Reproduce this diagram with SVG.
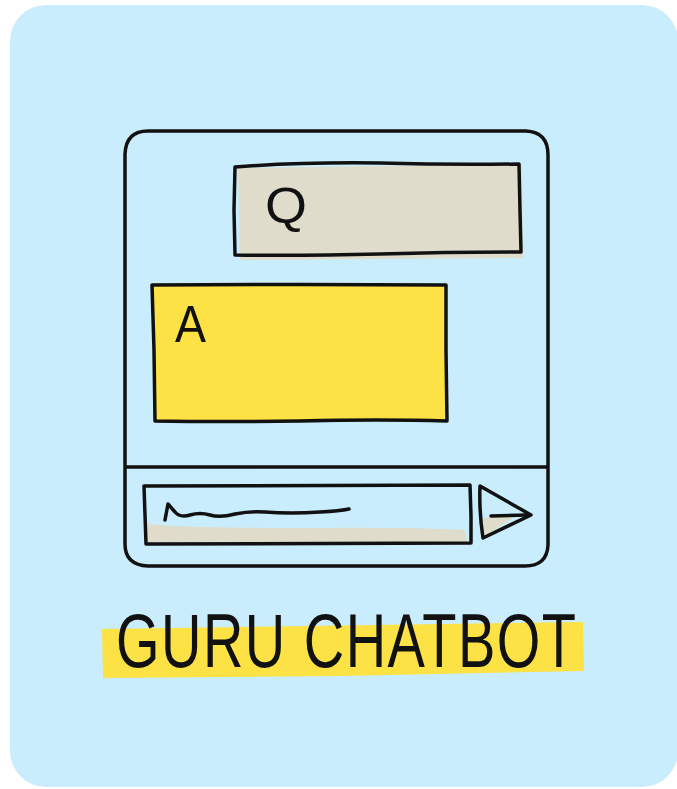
<svg xmlns="http://www.w3.org/2000/svg" width="677" height="789" viewBox="0 0 677 789">
<style>
.ink{fill:none;stroke:#111;stroke-width:3.5;stroke-linecap:round;stroke-linejoin:round}
.hand{font-family:"Liberation Sans","DejaVu Sans",sans-serif;fill:#111}
</style>
<rect x="10" y="5" width="668" height="782" rx="36" fill="#c9edfc"/>
<g id="frame">
<path class="ink" d="M148,131 H526 Q548,132 548,155 V545 Q547,566 525,566 H148 Q125,565 125,544 V154 Q126,131 148,131 Z"/>
<path class="ink" d="M126,467 H547"/>
</g>
<g id="question">
<path d="M238,168 L522,164 L523,258 L240,260 Z" fill="#e0dccb"/>
<path class="ink" d="M235,167 Q300,162 380,163 Q450,165 519,164 L520,211 L521,252 Q450,252 380,254 Q300,256 235,255 L234,210 Z"/>
<text class="hand" x="265" y="223" font-size="50" textLength="42" lengthAdjust="spacingAndGlyphs">Q</text>
</g>
<g id="answer">
<path d="M153,284 L447,285 L447,421 L154,421 Z" fill="#fde246"/>
<path class="ink" d="M152,285 Q300,284 446,285 L446,350 L447,421 Q380,419 300,421 Q220,422 155,421 L154,350 Z"/>
<text class="hand" x="175" y="342" font-size="52" textLength="31" lengthAdjust="spacingAndGlyphs">A</text>
</g>
<g id="input">
<path d="M147,523 Q160,528 300,528 Q420,527 465,530 L467,542 L147,542 Z" fill="#e0dccb"/>
<path class="ink" d="M144,486 Q300,485 470,485 L471,516 L471,543 Q300,544 146,544 L145,515 Z"/>
<path class="ink" d="M165,520 L168,504 L175,512 Q180,518 190,515 Q200,512 210,515 Q220,518 235,514 Q250,511 265,512 Q290,514 320,512 Q340,511 349,509"/>
</g>
<g id="send">
<path d="M482,518 L517,515 L484,537 Z" fill="#e0dccb"/>
<path class="ink" d="M480,486 L531,515 L483,538 Q479,512 480,486 Z"/>
<path class="ink" d="M491,516 L527,515"/>
</g>
<g id="title">
<path d="M102,629 L583,622 L584,671 L340,676 L103,678 Z" fill="#fde246"/>
<text class="hand" transform="translate(116,667) scale(1,1.35)" x="0" y="0" font-size="56" textLength="460" lengthAdjust="spacing">GURU CHATBOT</text>
</g>
</svg>
